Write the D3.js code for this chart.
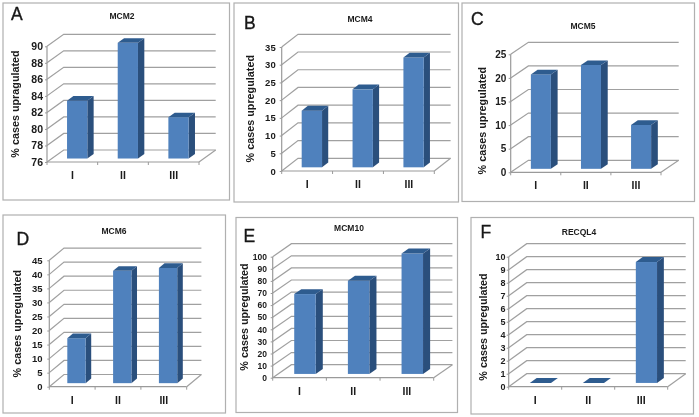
<!DOCTYPE html>
<html><head><meta charset="utf-8">
<script src="https://cdn.jsdelivr.net/npm/d3@7"></script>
<style>
html,body{margin:0;padding:0;background:#fff}
svg{display:block}
text{font-family:"Liberation Sans",Arial,sans-serif;fill:#1a1a1a}
</style></head><body><svg id="c" width="699" height="417"></svg>
<script>
const categories = ["I","II","III"];
const mcm2 = [83,90,81];
const mcm4 = [16,22,31];
const mcm5 = [20,22,9.3];
const mcm6 = [16,40,41];
const mcm10 = [66,77,99.5];
const recql4 = [0,0,9.3];
const yTicksA = [76,78,80,82,84,86,88,90];
const yTicksB = [0,5,10,15,20,25,30,35];
const yTicksC = [0,5,10,15,20,25];
const yTicksD = [0,5,10,15,20,25,30,35,40,45];
const yTicksE = [0,10,20,30,40,50,60,70,80,90,100];
const yTicksF = [0,1,2,3,4,5,6,7,8,9,10];

const panels = [
 {letter:"A",title:"MCM2",yLabel:"% cases upragulated",values:mcm2,ticks:yTicksA,box:[3,3,229.5,200],x:[47,199],y:[162,46.3],d:[16.7,-12],lt:[11,19.5],ttl:[122,19],yl:[18.5,104],tf:10.5,gap:4},
 {letter:"B",title:"MCM4",yLabel:"% cases upregulated",values:mcm4,ticks:yTicksB,box:[234,3,458.5,202],x:[281.7,434.3],y:[171,47],d:[16.3,-12.7],lt:[244,28.5],ttl:[360,21.7],yl:[254,108.7],tf:9.5,gap:6},
 {letter:"C",title:"MCM5",yLabel:"% cases upregulated",values:mcm5,ticks:yTicksC,box:[462,3,694.5,201.5],x:[510.7,661],y:[172.3,54.3],d:[17.7,-12],lt:[471,24.5],ttl:[583,29],yl:[485.5,120.7],tf:10,gap:4.3},
 {letter:"D",title:"MCM6",yLabel:"% cases upregulated",values:mcm6,ticks:yTicksD,box:[3,215,225.5,413],x:[49.3,186.7],y:[386.7,260.3],d:[14.7,-12.2],lt:[16.5,245],ttl:[114,234],yl:[20.5,323.7],tf:9.5,gap:6.7},
 {letter:"E",title:"MCM10",yLabel:"% cases upregulated",values:mcm10,ticks:yTicksE,box:[236,217.5,457.5,412.5],x:[272.7,433.7],y:[377.7,256.7],d:[18.7,-13],lt:[243.5,242],ttl:[349,231],yl:[248,317],tf:8.5,gap:5.7},
 {letter:"F",title:"RECQL4",yLabel:"% cases upregulated",values:recql4,ticks:yTicksF,box:[471,217.5,693.5,414],x:[508.7,667.7],y:[386.7,256.7],d:[18,-13],lt:[480.5,237.5],ttl:[579,235],yl:[487,327],tf:9,gap:3.3}
];
const svg = d3.select("#c");
const soft = svg.append("defs").append("filter").attr("id","soft").attr("x",0).attr("y",0).attr("width","100%").attr("height","100%");
soft.append("feGaussianBlur").attr("stdDeviation",0.45);
const root = svg.append("g").attr("filter","url(#soft)");
root.append("rect").attr("width",699).attr("height",417).attr("fill","#fff");
const C = {front:"#4f81bd",top:"#2f5b8f",side:"#2c4f7c",grid:"#a0a0a0",axis:"#9a9a9a",box:"#b0b0b0"};
const poly = pts => pts.map(p=>p.join(",")).join(" ");

panels.forEach(p=>{
  const g = root.append("g");
  g.append("rect").attr("x",p.box[0]).attr("y",p.box[1]).attr("width",p.box[2]-p.box[0]).attr("height",p.box[3]-p.box[1])
    .attr("fill","#fff").attr("stroke",C.box).attr("stroke-width",1.2);
  const x = d3.scaleBand().domain(categories).range(p.x);
  const y = d3.scaleLinear().domain(d3.extent(p.ticks)).range(p.y);
  const [dx,dy] = p.d, base = d3.min(p.ticks);
  const grid = g.append("g").attr("fill","none").attr("stroke",C.grid).attr("stroke-width",1.2);
  p.ticks.forEach(t=>{
    grid.append("path").attr("d",`M${p.x[0]},${y(t)}L${p.x[0]+dx},${y(t)+dy}L${p.x[1]+dx},${y(t)+dy}`);
  });
  grid.append("path").attr("d",`M${p.x[1]},${y(base)}L${p.x[1]+dx},${y(base)+dy}`);
  const ay = d3.axisLeft(y).tickValues(p.ticks).tickSize(2).tickPadding(p.gap-2);
  const gy = g.append("g").attr("transform",`translate(${p.x[0]},0)`).call(ay);
  const ax = d3.axisBottom(x).tickSize(0).tickPadding(9.5);
  const gx = g.append("g").attr("transform",`translate(0,${p.y[0]})`).call(ax);
  [gy,gx].forEach(a=>{a.selectAll("line").attr("stroke",C.axis).attr("stroke-width",1);a.select(".domain").remove();});
  gy.selectAll("text").attr("font-size",p.tf).attr("font-weight","bold").style("font-family",'"Liberation Sans"').attr("fill","#1a1a1a");
  gx.selectAll("text").attr("font-size",10.5).attr("font-weight","bold").style("font-family",'"Liberation Sans"').attr("fill","#1a1a1a");
  g.append("line").attr("x1",p.x[0]).attr("x2",p.x[0]).attr("y1",y.range()[0]).attr("y2",y.range()[1]).attr("stroke",C.axis).attr("stroke-width",1.2);
  g.append("line").attr("x1",p.x[0]).attr("x2",p.x[1]).attr("y1",p.y[0]).attr("y2",p.y[0]).attr("stroke",C.axis).attr("stroke-width",1.2);
  [...categories.map(c=>x(c)),p.x[1]].forEach(v=>g.append("line").attr("x1",v).attr("x2",v).attr("y1",p.y[0]).attr("y2",p.y[0]+3).attr("stroke",C.axis));
  const bw = x.bandwidth()*0.4, f0 = 0.29, f1 = 0.38;
  p.values.forEach((v,i)=>{
    const l = x(categories[i]) + (x.bandwidth()-bw)/2 + dx*f0;
    const r = l+bw, b = y(base)+dy*f0, t = y(v)+dy*f0;
    const ox = dx*f1, oy = dy*f1;
    const b3 = g.append("g");
    if (t<b-.5) {
      b3.append("polygon").attr("points",poly([[r,t],[r+ox,t+oy],[r+ox,b+oy],[r,b]])).attr("fill",C.side);
      b3.append("rect").attr("x",l).attr("y",t).attr("width",bw).attr("height",b-t).attr("fill",C.front);
    }
    b3.append("polygon").attr("points",poly([[l,t],[l+ox,t+oy],[r+ox,t+oy],[r,t]])).attr("fill",C.top);
  });
  g.append("text").attr("x",p.lt[0]).attr("y",p.lt[1]).attr("font-size",17.5).attr("fill","#111").attr("stroke","#111").attr("stroke-width",0.35).text(p.letter);
  g.append("text").attr("x",p.ttl[0]).attr("y",p.ttl[1]).attr("text-anchor","middle").attr("font-size",8.5).attr("font-weight","bold").text(p.title);
  g.append("text").attr("transform",`translate(${p.yl[0]},${p.yl[1]}) rotate(-90)`).attr("text-anchor","middle").attr("font-size",10.8).attr("font-weight","bold").text(p.yLabel);
});
</script></body></html>
